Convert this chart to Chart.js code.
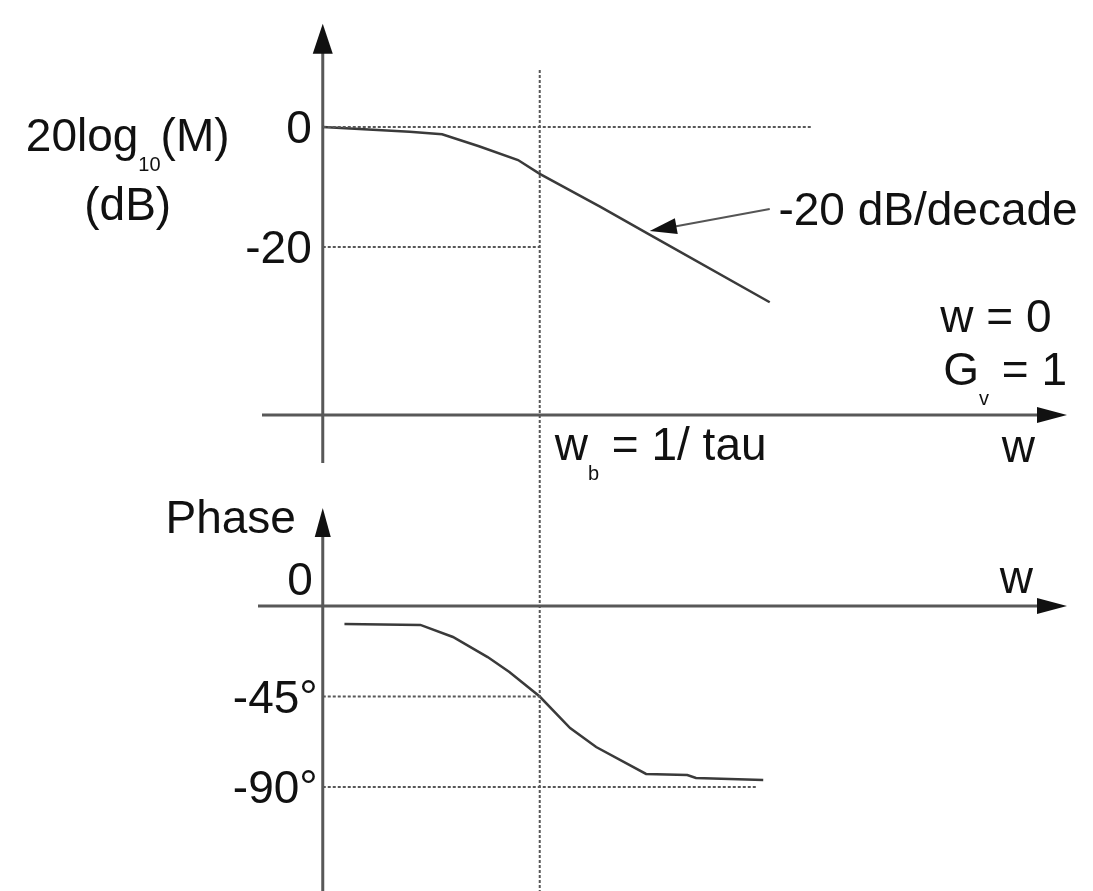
<!DOCTYPE html>
<html>
<head>
<meta charset="utf-8">
<script src="https://cdn.jsdelivr.net/npm/chart.js@4.4.1/dist/chart.umd.min.js"></script>
<style>
  html, body { margin: 0; padding: 0; background: #fff; }
  #wrap { position: relative; width: 1093px; height: 891px; }
</style>
</head>
<body>
<div id="wrap"><canvas id="bode" width="1093" height="891"></canvas></div>
<script>
// w axis is log10(w / wb) : 0 is the break frequency, -1 is where the y axes sit
var magW     = [-1.0, -0.6, -0.45, -0.28, -0.1, 0, 0.28, 0.5, 1.06];
var magDb    = [0, -0.8, -1.2, -3.2, -5.5, -7.8, -13.3, -17.8, -29.2];
var phaseW   = [-0.9, -0.55, -0.4, -0.24, -0.14, 0, 0.14, 0.26, 0.49, 0.68, 0.72, 1.03];
var phaseDeg = [-9, -9.4, -15.4, -25.4, -32.8, -45, -60.7, -70.1, -83.5, -84, -85.5, -86.5];

var magTicks   = ['0', '-20'];
var magTickVal = [0, -20];
var phaseTicks   = ['-45\u00b0', '-90\u00b0'];
var phaseTickVal = [-45, -90];

// dotted reference lines: level and where they stop on the w axis
var magGuideLevel   = [0, -20];
var magGuideEnd     = [1.25, 0];
var phaseGuideLevel = [-45, -90];
var phaseGuideEnd   = [0, 1.0];

var axisW = -1;     // w value of the vertical axes
var breakW = 0;     // wb = 1/tau

var W_MIN = -1.28, W_MAX = 2.43;
var DB_MIN = -127.33, DB_MAX = 21.17;
var PH_MIN = -141.7, PH_MAX = 301.3;

var FONT = '"Liberation Sans", Arial, sans-serif';
var BIG = '46px ', SMALL = '20px ';
var guideStyle = { borderColor: '#585858', borderWidth: 2, borderDash: [3, 2], pointRadius: 0, showLine: true, fill: false };

function pts(xs, ys) {
  return xs.map(function (x, i) { return { x: x, y: ys[i] }; });
}

var datasets = [];
magGuideLevel.forEach(function (lv, i) {
  datasets.push(Object.assign({ yAxisID: 'yMag', data: pts([axisW, magGuideEnd[i]], [lv, lv]) }, guideStyle));
});
phaseGuideLevel.forEach(function (lv, i) {
  datasets.push(Object.assign({ yAxisID: 'yPh', data: pts([axisW, phaseGuideEnd[i]], [lv, lv]) }, guideStyle));
});
// vertical dotted line at wb, running through both panels
datasets.push(Object.assign({ yAxisID: 'yMag', data: pts([breakW, breakW], [9.5, DB_MIN]) }, guideStyle));

datasets.push({
  label: 'Magnitude', yAxisID: 'yMag', data: pts(magW, magDb),
  showLine: true, borderColor: '#3a3a3a', borderWidth: 2.5, pointRadius: 0, tension: 0, fill: false
});
datasets.push({
  label: 'Phase', yAxisID: 'yPh', data: pts(phaseW, phaseDeg),
  showLine: true, borderColor: '#3a3a3a', borderWidth: 2.5, pointRadius: 0, tension: 0, fill: false
});

function arrowHead(ctx, tx, ty, dx, dy, len, half) {
  var bx = tx - dx * len, by = ty - dy * len;
  ctx.beginPath();
  ctx.moveTo(tx, ty);
  ctx.lineTo(bx - dy * half, by + dx * half);
  ctx.lineTo(bx + dy * half, by - dx * half);
  ctx.closePath();
  ctx.fill();
}

function seg(ctx, x1, y1, x2, y2) {
  ctx.beginPath();
  ctx.moveTo(x1, y1);
  ctx.lineTo(x2, y2);
  ctx.stroke();
}

// text with subscripts: parts = [[text, isSub], ...]
function rich(ctx, parts, x, y, align) {
  var widths = parts.map(function (p) {
    ctx.font = (p[1] ? SMALL : BIG) + FONT;
    return ctx.measureText(p[0]).width;
  });
  var total = widths.reduce(function (a, b) { return a + b; }, 0);
  var cx = align === 'right' ? x - total : align === 'center' ? x - total / 2 : x;
  ctx.textAlign = 'left';
  ctx.textBaseline = 'alphabetic';
  parts.forEach(function (p, i) {
    ctx.font = (p[1] ? SMALL : BIG) + FONT;
    ctx.fillText(p[0], cx, p[1] ? y + 20 : y);
    cx += widths[i];
  });
}

var bodeAxes = {
  id: 'bodeAxes',
  beforeDatasetsDraw: function (chart) {
    var ctx = chart.ctx, sx = chart.scales.x, sm = chart.scales.yMag, sp = chart.scales.yPh;
    var ax = sx.getPixelForValue(axisW);
    var left = sx.getPixelForValue(W_MIN), right = sx.getPixelForValue(W_MAX);
    ctx.save();
    ctx.strokeStyle = '#585858';
    ctx.fillStyle = '#111';
    ctx.lineWidth = 3;

    // magnitude panel
    var magTip = sm.getPixelForValue(17.2);
    seg(ctx, ax, sm.getPixelForValue(-56), ax, magTip + 20);
    arrowHead(ctx, ax, magTip, 0, -1, 30, 10);
    var magAxisY = sm.getPixelForValue(-48);
    seg(ctx, left, magAxisY, right - 20, magAxisY);
    arrowHead(ctx, right, magAxisY, 1, 0, 30, 8);

    // phase panel
    var phTip = sp.getPixelForValue(48.7);
    seg(ctx, ax, sp.getPixelForValue(PH_MIN), ax, phTip + 20);
    arrowHead(ctx, ax, phTip, 0, -1, 29, 8);
    var phAxisY = sp.getPixelForValue(0);
    seg(ctx, left - 4, phAxisY, right - 20, phAxisY);
    arrowHead(ctx, right, phAxisY, 1, 0, 30, 8);
    ctx.restore();
  },
  afterDatasetsDraw: function (chart) {
    var ctx = chart.ctx, sx = chart.scales.x, sm = chart.scales.yMag, sp = chart.scales.yPh;
    var ax = sx.getPixelForValue(axisW);
    ctx.save();
    ctx.fillStyle = '#111';
    ctx.font = BIG + FONT;
    ctx.textBaseline = 'alphabetic';

    // tick labels
    ctx.textAlign = 'right';
    magTicks.forEach(function (t, i) {
      ctx.fillText(t, ax - 11, sm.getPixelForValue(magTickVal[i]) + 16);
    });
    ctx.fillText('0', ax - 10, sp.getPixelForValue(0) - 11);
    phaseTicks.forEach(function (t, i) {
      ctx.fillText(t, ax - 5, sp.getPixelForValue(phaseTickVal[i]) + 16);
    });

    // axis titles
    rich(ctx, [['20log'], ['10', true], ['(M)']], sx.getPixelForValue(-1.899), sm.getPixelForValue(-4), 'center');
    rich(ctx, [['(dB)']], sx.getPixelForValue(-1.899), sm.getPixelForValue(-15.5), 'center');
    rich(ctx, [['Phase']], sx.getPixelForValue(-1.725), sp.getPixelForValue(36.3), 'left');
    rich(ctx, [['w']], sx.getPixelForValue(2.129), sm.getPixelForValue(-55.83), 'left');
    rich(ctx, [['w']], sx.getPixelForValue(2.12), sp.getPixelForValue(6.5), 'left');

    // annotations
    rich(ctx, [['w'], ['b', true], [' = 1/ tau']], sx.getPixelForValue(0.069), sm.getPixelForValue(-55.5), 'left');
    rich(ctx, [['w = 0']], sx.getPixelForValue(2.359), sm.getPixelForValue(-34.17), 'right');
    rich(ctx, [['G'], ['v', true], [' = 1']], sx.getPixelForValue(2.43), sm.getPixelForValue(-43), 'right');
    rich(ctx, [['-20 dB/decade']], sx.getPixelForValue(1.1), sm.getPixelForValue(-16.33), 'left');

    // pointer to the -20 dB/decade slope
    var x1 = sx.getPixelForValue(1.06), y1 = sm.getPixelForValue(-13.67);
    var x2 = sx.getPixelForValue(0.507), y2 = sm.getPixelForValue(-17.33);
    var len = Math.hypot(x2 - x1, y2 - y1), dx = (x2 - x1) / len, dy = (y2 - y1) / len;
    ctx.strokeStyle = '#555';
    ctx.lineWidth = 2;
    seg(ctx, x1, y1, x2 - dx * 20, y2 - dy * 20);
    arrowHead(ctx, x2, y2, dx, dy, 27, 8);
    ctx.restore();
  }
};

new Chart(document.getElementById('bode'), {
  type: 'scatter',
  data: { datasets: datasets },
  options: {
    responsive: false,
    animation: false,
    devicePixelRatio: 1,
    layout: { padding: { left: 262, right: 26, top: 0, bottom: 0 } },
    plugins: { legend: { display: false }, tooltip: { enabled: false } },
    scales: {
      x: { type: 'linear', min: W_MIN, max: W_MAX, display: false },
      yMag: { type: 'linear', position: 'left', min: DB_MIN, max: DB_MAX, display: false },
      yPh: { type: 'linear', position: 'right', min: PH_MIN, max: PH_MAX, display: false }
    }
  },
  plugins: [bodeAxes]
});
</script>
</body>
</html>
